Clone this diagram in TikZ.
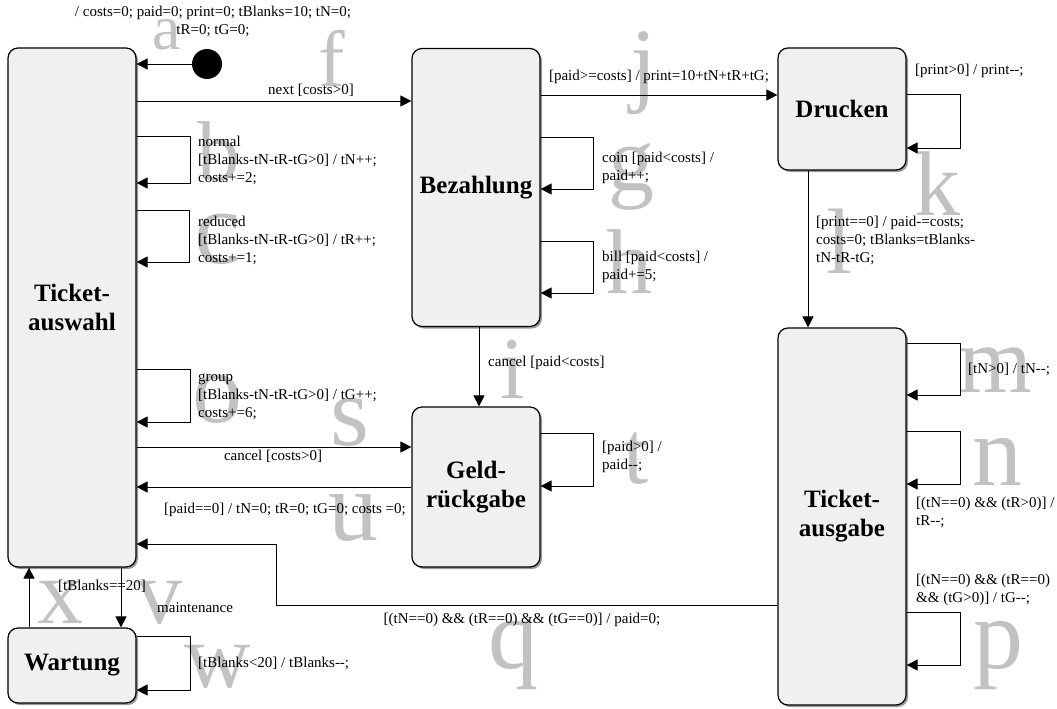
\documentclass[tikz,border=0pt]{standalone}
\usepackage{fontspec}
\setmainfont{Liberation Serif}
\usetikzlibrary{arrows.meta,shadows}
\definecolor{boxgray}{HTML}{F0F0F0}
\definecolor{lettergray}{HTML}{C2C2C2}

\begin{document}
\begin{tikzpicture}[x=1pt,y=-1pt,
  state/.style={draw, line width=1.2pt, rounded corners=10pt, fill=boxgray,
    minimum width=128pt, inner sep=0pt, align=center,
    font=\fontsize{25}{29}\selectfont\bfseries,
    drop shadow={shadow xshift=2pt, shadow yshift=-2pt, opacity=0.5, fill=black!80}},
  arr/.style={draw, line width=0.9pt, -{Triangle[length=11pt,width=11pt]}},
  lbl/.style={font=\fontsize{15}{18}\selectfont, align=left, inner sep=0pt, anchor=west},
  clbl/.style={font=\fontsize{15}{18}\selectfont, align=center, inner sep=0pt},
  gl/.style={font=\fontsize{#1}{#1}\selectfont, text=lettergray, inner sep=0pt, anchor=base west}]

\useasboundingbox (0,0) rectangle (1057,709);

% large grey marker letters (drawn first, behind everything)
\node[gl=64] at (152,50) {a};
\node[gl=80] at (318,86) {f};
\node[gl=85] at (197,180) {b};
\node[gl=105] at (194,263) {c};
\node[gl=100] at (192,422) {o};
\node[gl=100] at (330,445) {s};
\node[gl=92] at (608,190) {g};
\node[gl=92] at (606,293) {h};
\node[gl=95] at (630,94) {j};
\node[gl=92] at (914,215) {k};
\node[gl=93] at (826,273) {l};
\node[gl=88] at (500,398) {i};
\node[gl=90] at (623,483) {t};
\node[gl=100] at (328,540) {u};
\node[gl=95] at (958,392) {m};
\node[gl=100] at (972,485) {n};
\node[gl=100] at (973,668) {p};
\node[gl=100] at (488,668) {q};
\node[gl=92] at (37,623) {x};
\node[gl=92] at (136,623) {v};
\node[gl=92] at (184,687) {w};

% states
\node[state, minimum height=519pt] (ta) at (72,307.5) {Ticket-\\auswahl};
\node[state, minimum height=278pt] (bz) at (476,187.5) {Bezahlung};
\node[state, minimum height=122pt] (dr) at (842,109) {Drucken};
\node[state, minimum height=377pt] (ag) at (842,516.5) {Ticket-\\ausgabe};
\node[state, minimum height=160pt] (gr) at (476,487) {Geld-\\rückgabe};
\node[state, minimum height=75pt] (wt) at (72,665.5) {Wartung};

% initial state
\node[circle, fill=black, minimum size=30pt, inner sep=0pt] (init) at (207,64) {};
\draw[arr] (init) -- (init -| ta.east);
\node[clbl] (initl) at (213,21) {/ costs=0; paid=0; print=0; tBlanks=10; tN=0;\\tR=0; tG=0;};

% Ticketauswahl transitions
\draw[arr] (ta.east |- 0,101) -- (bz.west |- 0,101);
\node[clbl] (nextl) at (311,90) {next [costs>0]};

\draw[arr] (ta.east |- 0,136) -- (190,136) -- (190,183) -- (ta.east |- 0,183);
\node[lbl] (normall) at (198,160) {normal\\{}[tBlanks-tN-tR-tG>0] / tN++;\\costs+=2;};

\draw[arr] (ta.east |- 0,210) -- (189,210) -- (189,262) -- (ta.east |- 0,262);
\node[lbl] (reducedl) at (198,240) {reduced\\{}[tBlanks-tN-tR-tG>0] / tR++;\\costs+=1;};

\draw[arr] (ta.east |- 0,369) -- (190,369) -- (190,422) -- (ta.east |- 0,422);
\node[lbl] (groupl) at (198,397) {group\\{}[tBlanks-tN-tR-tG>0] / tG++;\\costs+=6;};

\draw[arr] (ta.east |- 0,447) -- (gr.west |- 0,447);
\node[clbl] (cancell) at (273,456) {cancel [costs>0]};

\draw[arr] (gr.west |- 0,487) -- (ta.east |- 0,487);
\node[clbl] (refundl) at (285,510) {[paid==0] / tN=0; tR=0; tG=0; costs =0;};

% Bezahlung transitions
\draw[arr] (bz.east |- 0,95) -- (dr.west |- 0,95);
\node[clbl] (payl) at (659,77) {[paid>=costs] / print=10+tN+tR+tG;};

\draw[arr] (bz.east |- 0,137) -- (593,137) -- (593,189) -- (bz.east |- 0,189);
\node[lbl] (coinl) at (602,168) {coin [paid<costs] /\\paid++;};

\draw[arr] (bz.east |- 0,241) -- (593,241) -- (593,293) -- (bz.east |- 0,293);
\node[lbl] (billl) at (602,267) {bill [paid<costs] /\\paid+=5;};

\draw[arr] (bz.south -| 479,0) -- (gr.north -| 479,0);
\node[lbl] (cpaidl) at (488,363) {cancel [paid<costs]};

% Geldrückgabe loop
\draw[arr] (gr.east |- 0,433) -- (593,433) -- (593,486) -- (gr.east |- 0,486);
\node[lbl] (paidl) at (602,457) {[paid>0] /\\paid-{}-;};

% Drucken transitions
\draw[arr] (dr.east |- 0,94) -- (960,94) -- (960,148) -- (dr.east |- 0,148);
\node[lbl] (printl) at (915,71) {[print>0] / print-{}-;};

\draw[arr] (dr.south -| 808,0) -- (ag.north -| 808,0);
\node[lbl] (donel) at (816,240) {[print==0] / paid-=costs;\\costs=0; tBlanks=tBlanks-\\tN-tR-tG;};

% Ticketausgabe transitions
\draw[arr] (ag.east |- 0,343) -- (960,343) -- (960,395) -- (ag.east |- 0,395);
\node[lbl] (tnl) at (968,369) {[tN>0] / tN-{}-;};

\draw[arr] (ag.east |- 0,431) -- (960,431) -- (960,484) -- (ag.east |- 0,484);
\node[lbl] (trl) at (916,512) {[(tN==0) \&\& (tR>0)] /\\tR-{}-;};

\draw[arr] (ag.east |- 0,612) -- (960,612) -- (960,665) -- (ag.east |- 0,665);
\node[lbl] (tgl) at (916,590) {[(tN==0) \&\& (tR==0)\\\&\& (tG>0)] / tG-{}-;};

\coordinate (back1) at (276,605);
\coordinate (back2) at (276,544);
\draw[arr] (ag.west |- back1) -- (back1) -- (back2) -- (ta.east |- back2);
\node[clbl] (backl) at (522,620) {[(tN==0) \&\& (tR==0) \&\& (tG==0)] / paid=0;};

% Wartung transitions
\draw[arr] (ta.south -| 121,0) -- (wt.north -| 121,0);
\draw[arr] (wt.north -| 29,0) -- (ta.south -| 29,0);
\node[lbl] (fulll) at (58,586) {[tBlanks==20]};
\node[lbl] (maintl) at (157,608) {maintenance};

\draw[arr] (wt.east |- 0,636) -- (190,636) -- (190,690) -- (wt.east |- 0,690);
\node[lbl] (blankl) at (198,663) {[tBlanks<20] / tBlanks-{}-;};

\end{tikzpicture}
\end{document}
